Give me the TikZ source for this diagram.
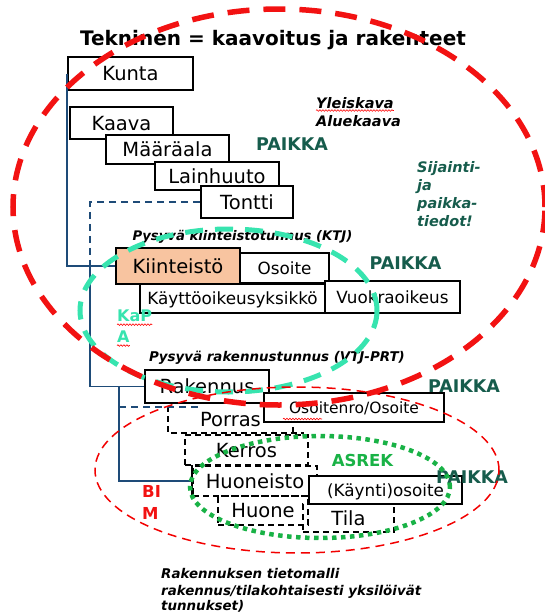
\documentclass[tikz,border=0pt]{standalone}
\usepackage{fontspec}
\setmainfont{DejaVu Sans}
\usetikzlibrary{decorations.pathmorphing}
\definecolor{navy}{RGB}{30,75,120}
\definecolor{paikka}{RGB}{22,92,76}
\definecolor{peach}{RGB}{248,196,160}
\definecolor{kapa}{RGB}{55,228,175}
\definecolor{asrek}{RGB}{25,178,70}
\definecolor{bigred}{RGB}{242,18,18}
\tikzset{
  pbox/.style={draw=black, line width=1.8pt, fill=white, inner sep=0pt,
    text height=18pt, text depth=4pt, font=\fontsize{19.5}{22}\selectfont},
  sbox/.style={pbox, text height=15.5pt, text depth=3.4pt, font=\fontsize{16.8}{20}\selectfont},
  dbox/.style={pbox, dash pattern=on 6pt off 4pt},
  blueline/.style={draw=navy, line width=1.6pt},
  bluedash/.style={blueline, dash pattern=on 7pt off 5pt},
  paikkalbl/.style={text=paikka, inner sep=0pt, font=\fontsize{17.5}{20}\selectfont\bfseries},
  note/.style={inner sep=0pt, font=\fontsize{14.5}{18}\selectfont\bfseries\itshape},
  wavy/.style={draw=red, line width=0.6pt, decorate, decoration={snake, amplitude=0.8pt, segment length=3pt}}
}
\begin{document}
\begin{tikzpicture}[x=1pt,y=-1pt]
\useasboundingbox (0,0) rectangle (544,613);

% title
\node[anchor=base, inner sep=0pt, font=\fontsize{20}{24}\selectfont\bfseries] (title) at (273,45) {Tekninen = kaavoitus ja rakenteet};

% upper boxes
\node[pbox, minimum width=125, minimum height=33] (kunta) at (130.5,73.5) {Kunta};
\node[pbox, minimum width=103, minimum height=32] (kaava) at (121.5,123) {Kaava};
\node[pbox, minimum width=123, minimum height=29] (maara) at (167.5,149.5) {Määräala};
\node[pbox, minimum width=124, minimum height=28] (lain) at (217,176) {Lainhuuto};
\node[pbox, minimum width=92, minimum height=32] (tontti) at (247,202) {Tontti};

% Kiinteistö group
\node[pbox, fill=peach, minimum width=124, minimum height=36] (kiint) at (178,266) {Kiinteistö};
\node[sbox, minimum width=89, minimum height=30] (osoite) at (284.5,268) {Osoite};
\node[sbox, minimum width=185, minimum height=29] (kaytto) at (232.5,298.5) {Käyttöoikeusyksikkö};
\node[sbox, minimum width=135, minimum height=32] (vuokra) at (392.5,297) {Vuokraoikeus};

% building group: dashed boxes first
\node[pbox, draw=none, fill=none, minimum width=123, minimum height=25] (porras) at (230.5,419.5) {Porras};
\draw[line width=1.8pt, dash pattern=on 6pt off 4pt] (porras.north west) -- (porras.south west) -- ([xshift=11pt]porras.south east);
\draw[line width=1.8pt, dash pattern=on 6pt off 4pt] (porras.south east) -- (porras.north east);
\node[dbox, fill=none, minimum width=123, minimum height=30] (kerros) at (246.5,450) {Kerros};
\node[dbox, fill=none, minimum width=124, minimum height=30] (huon) at (255,481) {Huoneisto};
\draw[line width=1.8pt] (huon.north west) -- (huon.south west);
\node[dbox, fill=none, minimum width=90, minimum height=29] (huone) at (263,510.5) {Huone};
\node[dbox, fill=none, minimum width=91, minimum height=28] (tila) at (348.5,518) {Tila};

\node[pbox, minimum width=124, minimum height=33] (rak) at (207,386.5) {Rakennus};
\node[sbox, text height=14.5pt, text depth=3.2pt, font=\fontsize{15.5}{18}\selectfont, minimum width=180, minimum height=29] (osnro) at (354,407.5) {Osoitenro/Osoite};
\node[sbox, minimum width=153, minimum height=28] (kaynti) at (385.5,490) {(Käynti)osoite};

% blue connectors
\coordinate (j1) at (90,266);
\coordinate (j2) at (119,386.5);
\coordinate (j3) at (119,407);
\coordinate (pe) at (200,407);
\draw[blueline] (kunta.west) |- (kiint.west);
\draw[bluedash] (tontti.west) -| (j1);
\draw[blueline] (j1) |- (rak.west);
\draw[blueline] (j2) |- (huon.west);
\draw[bluedash] (j3) -- (pe);

% labels
\node[note, anchor=base west] (yleis) at (316,108) {Yleiskava};
\node[note, anchor=base west] (alue) at (316,126) {Aluekaava};
\draw[wavy] ([yshift=-2.5pt]yleis.base west) -- ([yshift=-2.5pt]yleis.base east);

\node[paikkalbl] (p1) at (292,144) {PAIKKA};
\node[paikkalbl] (p2) at (405.5,263) {PAIKKA};
\node[paikkalbl] (p3) at (464,386) {PAIKKA};
\node[paikkalbl] (p4) at (472,477) {PAIKKA};

\node[note, text=paikka, anchor=base west] (s1) at (417,172) {Sijainti-};
\node[note, text=paikka, anchor=base west] (s2) at (417,190) {ja};
\node[note, text=paikka, anchor=base west] (s3) at (417,208) {paikka-};
\node[note, text=paikka, anchor=base west] (s4) at (417,226) {tiedot!};

\node[note, font=\fontsize{13.2}{16}\selectfont\bfseries\itshape, anchor=base] (ktj) at (242.5,240) {Pysyvä kiinteistötunnus (KTJ)};
\node[note, font=\fontsize{13.4}{16}\selectfont\bfseries\itshape, anchor=base] (prt) at (277,361) {Pysyvä rakennustunnus (VTJ-PRT)};

\node[inner sep=0pt, anchor=west, text=kapa, font=\fontsize{16}{19}\selectfont\bfseries] (kap) at (117,315.5) {KaP};
\node[inner sep=0pt, anchor=west, text=kapa, font=\fontsize{16}{19}\selectfont\bfseries] (kapa2) at (117,336.5) {A};
\draw[wavy] ([yshift=-3pt]kap.south west) -- ([yshift=-3pt]kap.south east);
\draw[wavy] ([yshift=-3pt]kapa2.south west) -- ([yshift=-3pt]kapa2.south east);
\coordinate (w1) at (283,419);
\coordinate (w2) at (322,419);
\draw[wavy] (w1) -- (w2);

\node[inner sep=0pt, text=asrek, font=\fontsize{16.5}{19}\selectfont\bfseries] (asrek) at (362.5,460.5) {ASREK};
\node[inner sep=0pt, anchor=west, text=bigred, font=\fontsize{16.5}{19}\selectfont\bfseries] (bi) at (142,491.5) {BI};
\node[inner sep=0pt, anchor=west, text=bigred, font=\fontsize{16.5}{19}\selectfont\bfseries] (bm) at (142,513) {M};

\node[note, font=\fontsize{13.4}{16}\selectfont\bfseries\itshape, anchor=base west] (b1) at (161,578) {Rakennuksen tietomalli};
\node[note, font=\fontsize{13.4}{16}\selectfont\bfseries\itshape, anchor=base west] (b2) at (161,595) {rakennus/tilakohtaisesti yksilöivät};
\node[note, font=\fontsize{13.4}{16}\selectfont\bfseries\itshape, anchor=base west] (b3) at (161,610) {tunnukset)};

% ellipses
\draw[kapa, line width=5pt, dash pattern=on 18pt off 12pt] (228.5,310.5) ellipse [x radius=148.5pt, y radius=81.5pt];
\draw[red!95!black, line width=1.5pt, dash pattern=on 9pt off 6pt] (297,470) ellipse [x radius=202pt, y radius=83pt];
\draw[asrek, line width=4.5pt, dash pattern=on 4.5pt off 4.5pt] (320,487) ellipse [x radius=130pt, y radius=51pt];
\draw[bigred, line width=5.5pt, dash pattern=on 22pt off 14pt] (279,207) ellipse [x radius=266pt, y radius=198pt];
\end{tikzpicture}
\end{document}
